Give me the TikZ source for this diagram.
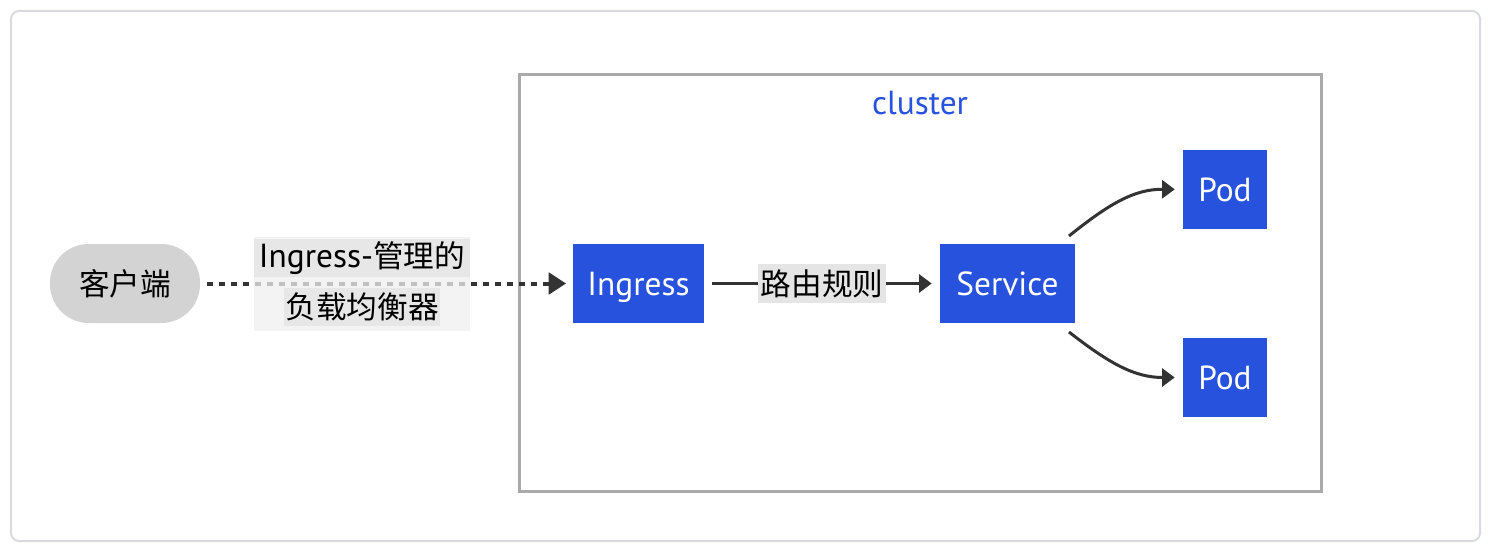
\documentclass[tikz,border=0pt]{standalone}
\usepackage{fontspec}
\setmainfont{PT Sans}
\newfontfamily\cjk{Noto Sans CJK SC}[Scale=0.92]
\usetikzlibrary{arrows.meta}
\definecolor{kblue}{HTML}{2752DE}
\definecolor{kgray}{HTML}{D3D3D3}
\definecolor{lblbg}{HTML}{E5E5E5}
\definecolor{lblout}{HTML}{F0F0F0}
\definecolor{clborder}{HTML}{AAAAAA}
\definecolor{outborder}{HTML}{D9DBDE}
\definecolor{edgec}{HTML}{333333}
\begin{document}
\begin{tikzpicture}[x=0.75pt,y=-0.75pt,
  font=\fontsize{25}{30}\selectfont,
  bluebox/.style={fill=kblue,text=white,inner sep=0pt,minimum height=59.25pt,text height=20pt,text depth=2.5pt},
  clientbox/.style={fill=kgray,rounded corners=29pt,inner sep=0pt,minimum width=112.5pt,minimum height=59.25pt},
  tipstyle/.style={-{Triangle[length=9.5pt,width=13.5pt]}},
  bigtip/.style={-{Triangle[length=13pt,width=16pt]}},
  edgeline/.style={draw=edgec,line width=2.25pt,tipstyle},
  dotline/.style={draw=edgec,line width=3pt,bigtip,dash pattern=on 4.2pt off 4.8pt},
  curveline/.style={draw=edgec,line width=2.25pt,tipstyle}
]
\useasboundingbox (0,0) rectangle (1490,560);
% outer frame
\draw[outborder,line width=1.5pt,rounded corners=6pt,fill=white] (11,11) rectangle (1480,541);
% cluster
\draw[clborder,line width=2.25pt] (519,75) rectangle (1321,491);
\node[text=kblue] (cl) at (920,103) {cluster};

% nodes
\node[clientbox] (client) at (125,283.5) {\cjk 客户端};
\node[bluebox,minimum width=98.25pt] (ingress) at (638.5,283.5) {Ingress};
\node[bluebox,minimum width=101.25pt] (service) at (1007.5,283.5) {Service};
\node[bluebox,minimum width=63pt] (pod1) at (1225,189.5) {Pod};
\node[bluebox,minimum width=63pt] (pod2) at (1225,377.5) {Pod};

% edge client -> ingress
\draw[dotline,shorten <=5pt,shorten >=5pt] (client.east) -- (ingress.west);
\node[fill=lblout,fill opacity=0.75,minimum width=162pt,minimum height=70.5pt,inner sep=0pt] (lbl) at (362,284) {};
\node[fill=lblbg,fill opacity=0.8,text opacity=1,minimum width=162pt,minimum height=29pt,inner sep=0pt] (lblA) at (362,258) {Ingress-{\cjk 管理的}};
\node[fill=lblbg,fill opacity=0.8,text opacity=1,minimum width=117pt,minimum height=29pt,inner sep=0pt] (lblB) at (362,307) {\cjk 负载均衡器};

% edge ingress -> service
\draw[edgeline,shorten <=6pt,shorten >=6pt] (ingress.east) -- node[fill=lblbg,inner sep=0pt,minimum width=96pt,minimum height=29pt] (rlbl) {\cjk 路由规则} (service.west);

% service -> pods
\coordinate (s1) at (1069,236);
\coordinate (s2) at (1069,332);
\draw[curveline,shorten >=6pt] (s1) .. controls (1110,203) and (1135,189) .. (pod1.west);
\draw[curveline,shorten >=6pt] (s2) .. controls (1110,364) and (1135,377.5) .. (pod2.west);
\end{tikzpicture}
\end{document}
